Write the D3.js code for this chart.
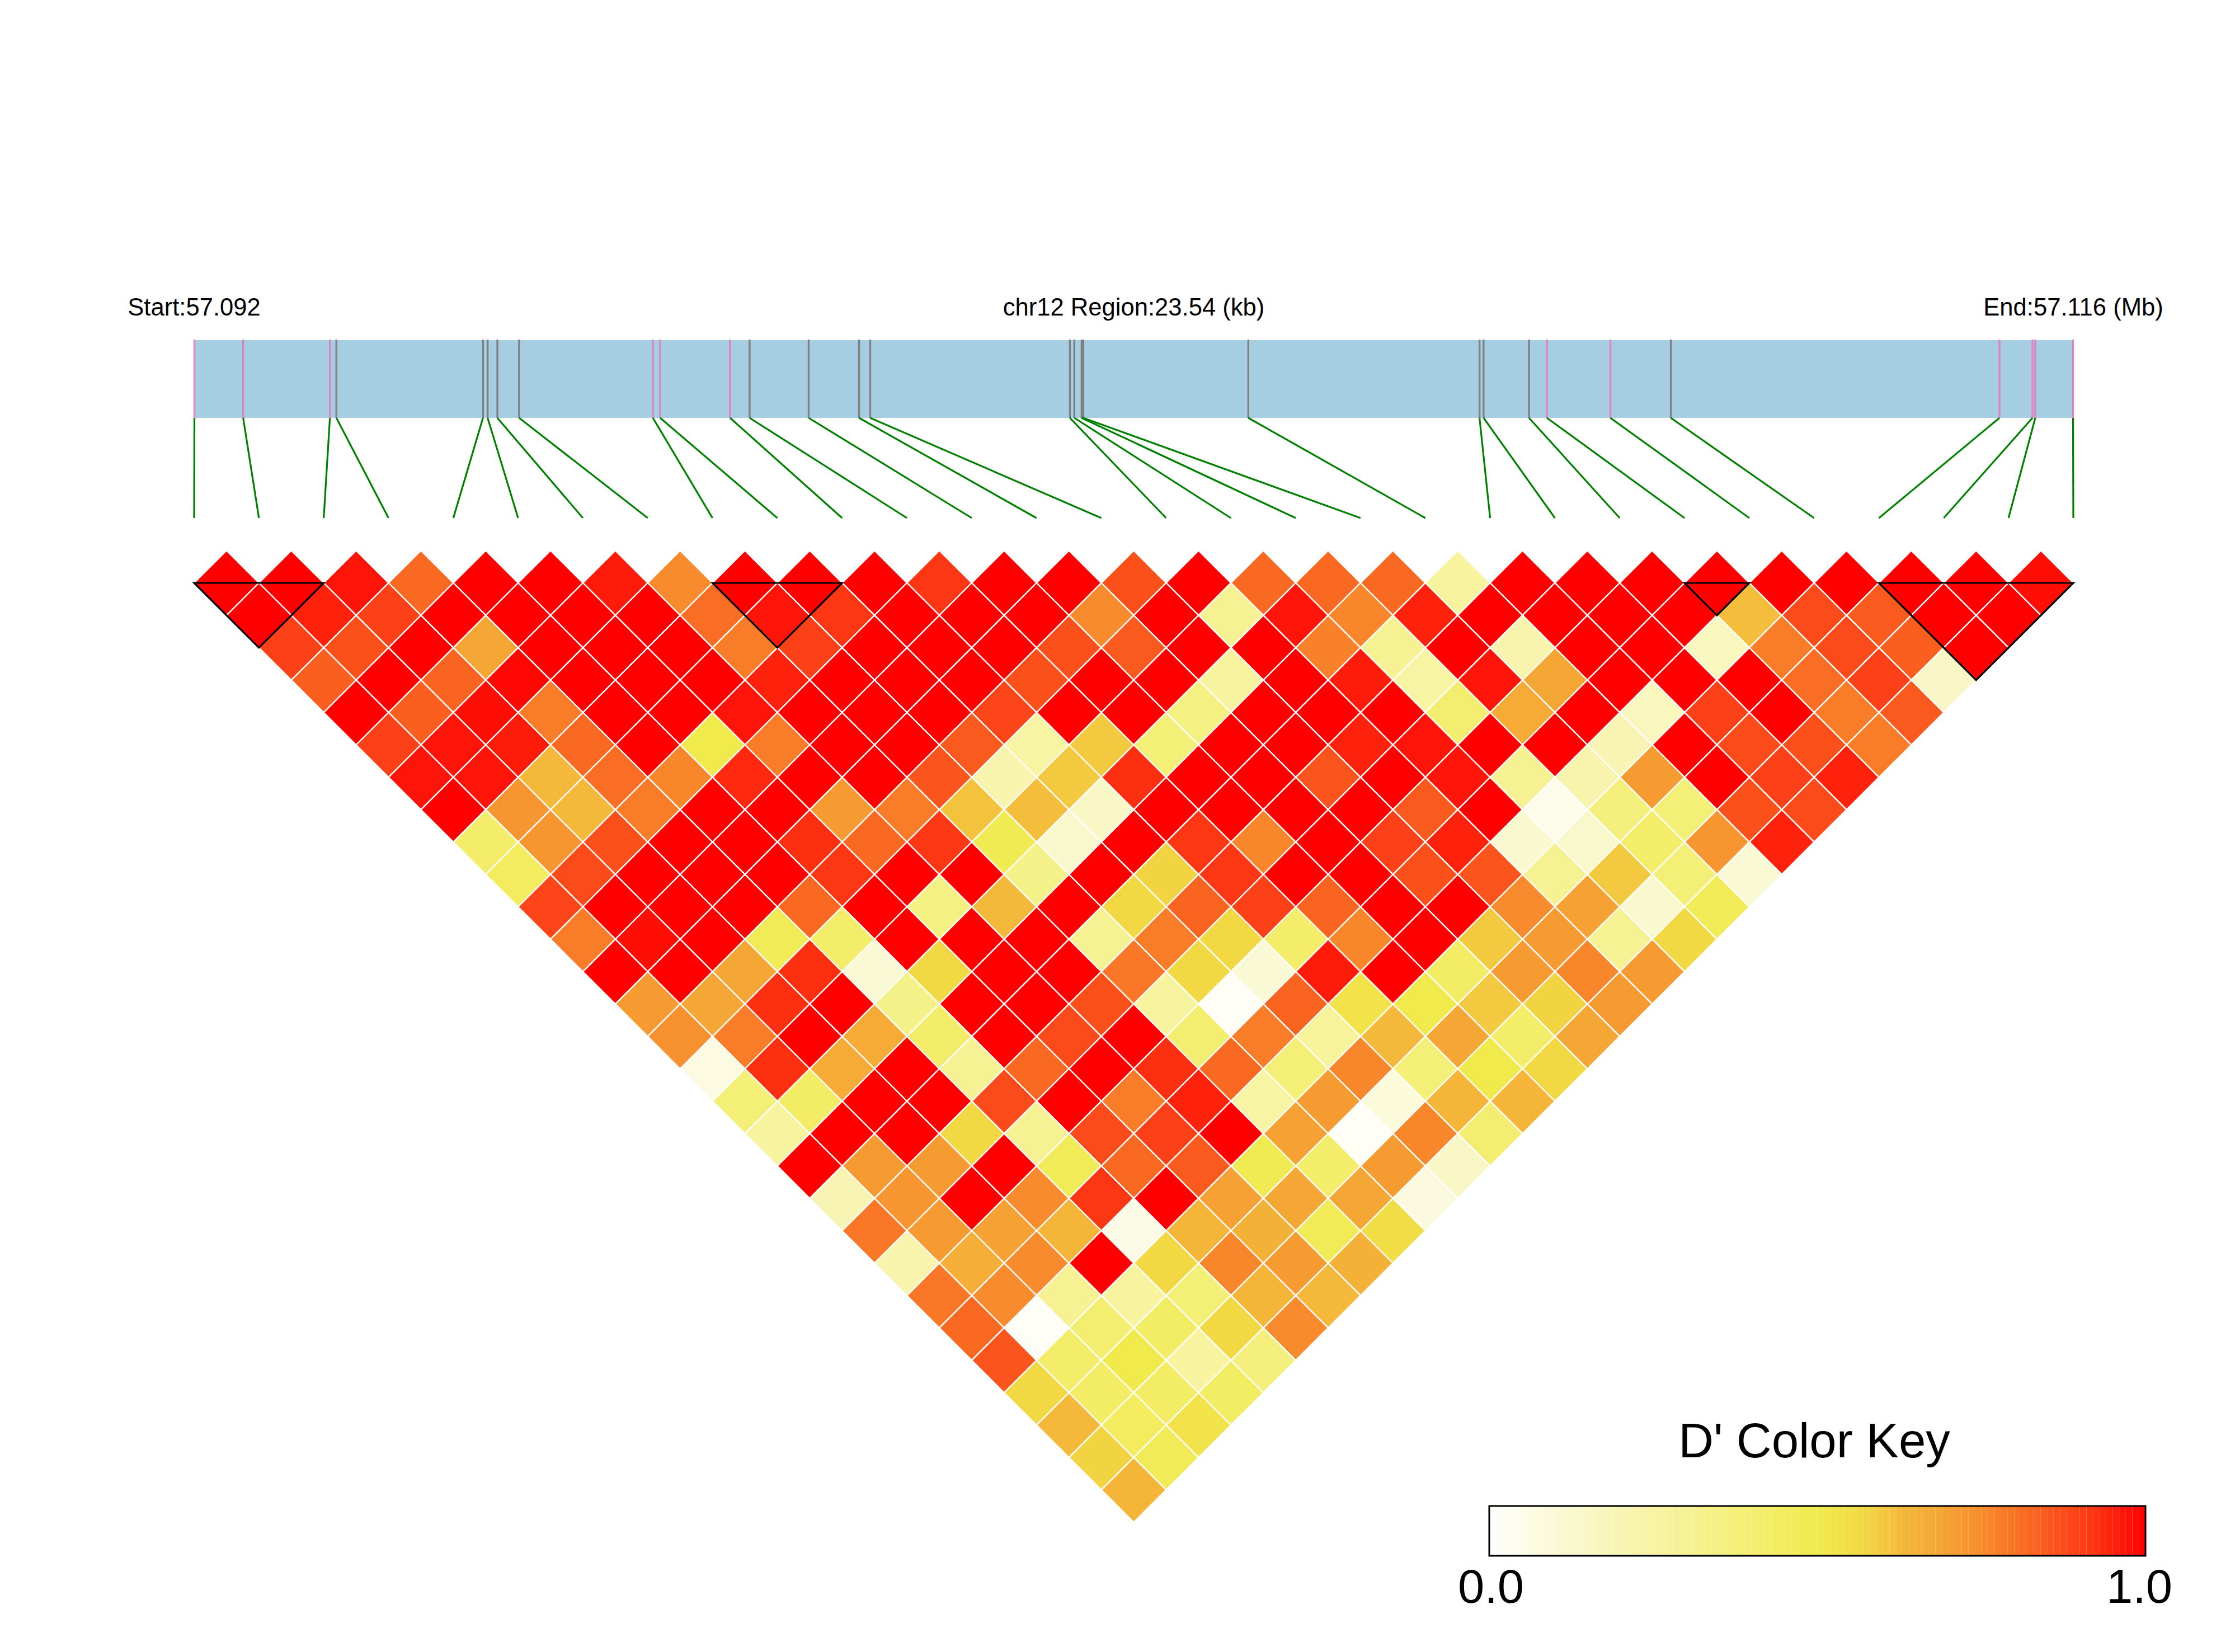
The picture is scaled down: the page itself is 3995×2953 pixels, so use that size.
<!DOCTYPE html>
<html><head><meta charset="utf-8">
<script src="https://cdnjs.cloudflare.com/ajax/libs/d3/7.8.5/d3.min.js"></script>
<style>html,body{margin:0;padding:0;background:#fff}svg{display:block}text{font-family:"Liberation Sans",Arial,sans-serif;fill:#000}</style>
</head><body><svg id="c" width="3995" height="2953"></svg>
<script>
const chrom="chr12", regionKb=23.54, startMb="57.092", endMb="57.116";
// SNP offsets within the region (kb)
const snpKb=[0,.611,1.698,1.779,3.616,3.674,3.796,4.069,5.745,5.836,6.712,6.957,7.697,8.328,8.468,10.97,11.026,11.117,11.138,13.206,16.103,16.154,16.723,16.947,17.743,18.5,22.618,23.032,23.067,23.54];
// 1 = SNP drawn pink in the track (member of an LD block), 0 = grey
const snpInBlock=[1,1,1,0,0,0,0,0,1,1,1,0,0,0,0,0,0,0,0,0,0,0,0,1,1,0,1,1,1,1];
// LD blocks as [first SNP, last SNP]
const blocks=[[0,2],[8,10],[23,24],[26,29]];
// D' by SNP separation: row k holds pairs (i, i+k+1)
const sep1=[1,1,.97,.82,1,1,.96,.75,1,1,1,.92,1,1,.87,1,.82,.82,.82,.27,1,1,1,1,1,1,1,1,.98];
const sep2=[1,.95,.9,1,1,1,1,.81,.97,.92,1,1,1,.75,1,.3,.97,.76,.95,1,1,1,1,.62,.88,.85,1,1];
const sep3=[.9,.87,1,.68,1,1,1,.78,.9,1,1,1,.87,.85,1,1,.77,.3,1,.22,1,1,.17,.78,.88,.84,1];
const sep4=[.84,1,.83,.99,1,1,1,.95,1,1,1,.87,1,1,.27,1,.96,.25,.97,.68,1,1,1,.81,.9,.15];
const sep5=[1,.84,.98,.78,1,1,.97,1,1,1,.89,1,1,.35,1,1,1,.4,.67,1,.17,.9,1,.78,.85];
const sep6=[.9,.97,.96,.82,1,.5,.78,1,1,.85,.25,.6,.38,1,1,.95,.97,1,1,.2,1,.88,.87,.78];
const sep7=[.97,.97,.63,.81,.76,.94,1,1,.86,.22,.6,.93,1,1,.86,1,.97,.3,.22,.72,1,.9,.95];
const sep8=[1,.73,.63,.78,1,1,.72,.78,.61,.62,.15,1,1,1,1,.85,1,.05,.36,.38,.87,.88];
const sep9=[.42,.73,.87,1,1,.93,.82,.92,.48,.13,1,.92,.76,1,.9,.95,.12,.13,.42,.73,.95];
const sep10=[.45,.88,1,1,1,.92,1,1,.33,1,.58,.92,1,1,.87,.86,.3,.6,.38,.1];
const sep11=[.89,1,1,1,.82,1,.35,.63,1,.57,.83,.9,.83,1,1,.75,.7,.12,.47];
const sep12=[.78,.98,1,.47,.42,1,1,1,.3,.78,.57,.42,.76,1,.6,.72,.3,.57];
const sep13=[1,1,.68,.93,.1,.57,1,1,.79,.57,.1,.96,1,.43,.72,.76,.72];
const sep14=[.72,.68,.93,1,.33,1,1,.87,.27,.02,.83,.53,.5,.6,.58,.72];
const sep15=[.74,.78,1,.67,.42,1,.88,1,.4,.78,.28,.63,.68,.42,.68];
const sep16=[.07,.93,.67,1,.3,.82,1,.93,.82,.38,.76,.38,.5,.57];
const sep17=[.38,.43,1,1,.88,1,.78,.95,.25,.72,.09,.64,.64];
const sep18=[.27,1,1,.57,.3,.88,.9,1,.7,.02,.76,.4];
const sep19=[1,.72,.72,1,.47,.82,.85,.48,.42,.72,.15];
const sep20=[.2,.73,1,.75,.92,1,.7,.68,.68,.08];
const sep21=[.79,.72,.7,.64,.06,.64,.65,.47,.55];
const sep22=[.22,.66,.75,1,.57,.76,.72,.65];
const sep23=[.79,.75,.3,.27,.38,.64,.63];
const sep24=[.82,.02,.4,.43,.57,.75];
const sep25=[.86,.42,.5,.27,.36];
const sep26=[.57,.43,.43,.44];
const sep27=[.63,.45,.53];
const sep28=[.58,.47];
const sep29=[.64];
const rows=[sep1,sep2,sep3,sep4,sep5,sep6,sep7,sep8,sep9,sep10,sep11,sep12,sep13,sep14,sep15,sep16,sep17,sep18,sep19,sep20,sep21,sep22,sep23,sep24,sep25,sep26,sep27,sep28,sep29];
const colorStops=[0,.1,.2,.3,.4,.5,.57,.63,.72,.78,.85,.92,1];
const colorRange=["#FFFFFF","#FAF9D6","#F8F5B4","#F6F294","#F4EE70","#F0EA4C","#F2D944","#F4B83A","#F69A32","#F97C28","#FB5A1E","#FD3614","#FF0000"];
const color=d3.scaleLinear().domain(colorStops).range(colorRange).clamp(true);

const svg=d3.select("#c");
const n=snpKb.length;
const x=d3.scaleLinear().domain([0,n-1]).range([347,3706]);
const y=d3.scaleLinear().domain([0,n-1]).range([1042,1042+29*57.9]);
const track=d3.scaleLinear().domain([0,regionKb]).range([347.5,3705.5]);
const cellPts=(i,j)=>{const a=x((i+j)/2),h=x(.5)-x(0),c=y(j-i-1);return [[a,c-h],[a+h,c],[a,c+h],[a-h,c]];};

// title row
const labels=[[`Start:${startMb}`,x(0)],[`${chrom} Region:${regionKb} (kb)`,x(14.5)],[`End:${endMb} (Mb)`,x(29)]];
svg.selectAll("text.hd").data(labels).join("text").attr("class","hd").attr("x",d=>d[1]).attr("y",564)
  .attr("text-anchor","middle").attr("font-size",43.6).text(d=>d[0]);

// track
svg.append("rect").attr("x",track(0)).attr("y",608).attr("width",track(regionKb)-track(0)).attr("height",139).attr("fill","#A6CEE3");
svg.selectAll("line.snp").data(snpKb).join("line").attr("class","snp")
  .attr("x1",d=>track(d)).attr("x2",d=>track(d)).attr("y1",607).attr("y2",747)
  .attr("stroke",(d,i)=>snpInBlock[i]?"#E183BE":"#808080").attr("stroke-width",3.4);
svg.selectAll("line.link").data(snpKb).join("line").attr("class","link")
  .attr("x1",d=>track(d)).attr("y1",747).attr("x2",(d,i)=>x(i)).attr("y2",926)
  .attr("stroke","#008000").attr("stroke-width",3.2);

// heat map
const cells=[];rows.forEach((r,k)=>r.forEach((v,i)=>cells.push({i,j:i+k+1,v})));
svg.append("g").selectAll("polygon").data(cells).join("polygon")
  .attr("points",d=>cellPts(d.i,d.j).join(" ")).attr("fill",d=>color(d.v))
  .attr("stroke","#fff").attr("stroke-width",2.4);

// LD blocks
svg.append("g").selectAll("polygon").data(blocks).join("polygon")
  .attr("points",([a,b])=>[[x(a),y(0)],[x(b),y(0)],[x((a+b)/2),y(b-a)]].join(" "))
  .attr("fill","none").attr("stroke","#000").attr("stroke-width",3.2);

// colour key
const legendBins=d3.range(100);
const lx=d3.scaleLinear().domain([0,100]).range([2662,3835]);
svg.append("g").selectAll("rect").data(legendBins).join("rect")
  .attr("x",d=>lx(d)).attr("y",2692).attr("width",lx(1)-lx(0)).attr("height",89)
  .attr("fill",d=>color((d+.5)/100));
svg.append("rect").attr("x",lx(0)).attr("y",2692).attr("width",lx(100)-lx(0)).attr("height",89)
  .attr("fill","none").attr("stroke","#000").attr("stroke-width",3);
svg.append("text").attr("x",3243).attr("y",2605).attr("text-anchor","middle").attr("font-size",87).text("D' Color Key");
svg.append("text").attr("x",2665).attr("y",2865).attr("text-anchor","middle").attr("font-size",85).text("0.0");
svg.append("text").attr("x",3824).attr("y",2865).attr("text-anchor","middle").attr("font-size",85).text("1.0");
</script></body></html>
